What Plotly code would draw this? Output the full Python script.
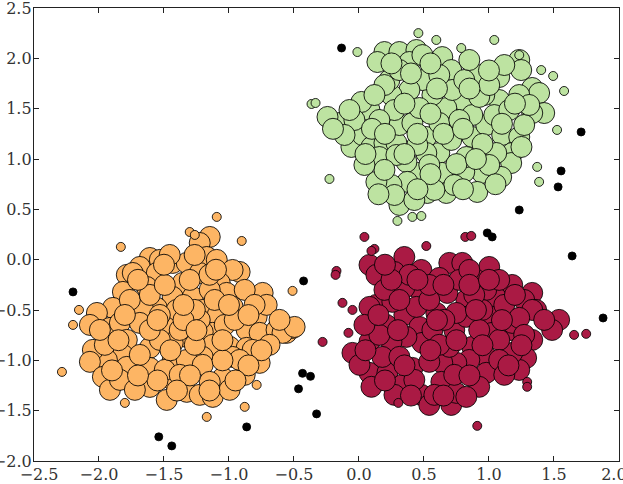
import plotly.graph_objects as go

# ---- data (data units) ----
red_core = [
    (0.081, -0.052), (0.134, -0.151), (0.349, 0.027), (0.273, -0.122), (0.480, -0.102),
    (0.695, -0.032), (0.795, -0.032), (0.618, -0.181), (1.002, -0.072), (0.902, -0.201),
    (1.179, -0.251), (1.333, -0.330), (1.271, -0.400), (1.363, -0.499), (1.056, -0.380),
    (0.979, -0.300), (0.826, -0.400), (0.680, -0.330), (0.465, -0.300), (0.349, -0.281),
    (0.134, -0.449), (0.081, -0.469), (0.211, -0.648), (0.349, -0.549), (0.465, -0.668),
    (0.595, -0.529), (0.733, -0.698), (0.826, -0.568), (1.025, -0.568), (1.171, -0.698),
    (1.333, -0.797), (1.286, -0.976), (1.233, -1.095), (1.025, -0.727), (0.872, -0.866),
    (0.979, -0.966), (0.979, -1.124), (0.925, -1.263), (0.849, -0.996), (0.749, -1.025),
    (0.641, -1.025), (0.488, -0.826), (0.365, -0.767), (0.250, -0.817), (0.081, -0.817),
    (-0.050, -0.926), (0.081, -1.124), (0.096, -1.263), (0.219, -1.124), (0.334, -1.244),
    (0.411, -1.075), (0.541, -1.015), (0.634, -1.214), (0.480, -1.343), (0.541, -1.443),
    (0.710, -1.443), (0.749, -1.323), (0.826, -1.363), (1.540, -0.598), (1.486, -0.698),
    (1.179, -0.628), (1.333, -0.499), (0.180, -0.966), (0.311, -0.966), (0.695, -0.866),
    (0.565, -0.698), (0.949, -0.499), (0.749, -0.529), (0.442, -0.469), (0.257, -0.419),
    (1.179, -0.926), (1.079, -0.797), (0.196, -0.300), (0.311, -0.400), (0.541, -0.400),
    (0.772, -0.201), (0.887, -0.350), (1.118, -0.449), (1.233, -0.578), (0.618, -0.846),
    (0.925, -0.698), (1.079, -0.996), (0.733, -1.144), (0.426, -1.194), (0.273, -1.343),
    (0.157, -0.747), (0.042, -0.648), (0.541, -0.251), (0.388, -0.151), (1.079, -0.201),
    (0.849, -0.102), (0.580, -1.343), (1.118, -1.144), (1.271, -0.747), (1.425, -0.598),
    (0.004, -1.045), (0.657, -0.598),
    (0.25, -0.20), (0.45, -0.20), (0.65, -0.25), (0.90, -0.50), (1.10, -0.60),
    (1.25, -0.85), (1.15, -1.05), (0.95, -0.85), (0.75, -0.80), (0.55, -0.90),
    (0.35, -1.05), (0.20, -1.20), (0.40, -1.35), (0.65, -1.35), (0.85, -1.15),
    (0.15, -0.55), (0.05, -0.90), (0.30, -0.70), (0.60, -0.60), (0.85, -0.25),
    (1.00, -0.20), (1.20, -0.35), (0.20, -0.05),
]
red_edge = [
    (0.042, 0.226), (0.119, 0.107), (0.096, 0.087), (0.518, 0.136), (0.818, 0.226),
    (0.864, 0.236), (-0.173, -0.112), (-0.180, -0.151), (-0.127, -0.429), (-0.050, -0.499),
    (-0.081, -0.727), (-0.280, -0.817), (0.303, -1.423), (0.910, -1.651), (1.294, -1.214),
    (1.294, -1.263), (1.655, -0.747), (1.748, -0.737),
]
orange_core = [
    (-1.148, 0.226), (-1.225, 0.166), (-1.609, 0.017), (-1.532, -0.002), (-1.686, -0.072),
    (-1.786, -0.151), (-1.740, -0.132), (-1.555, -0.132), (-1.433, -0.032), (-1.325, -0.032),
    (-1.171, 0.027), (-1.094, -0.002), (-1.225, -0.132), (-1.356, -0.231), (-1.632, -0.271),
    (-1.816, -0.320), (-0.918, -0.122), (-0.972, -0.102), (-1.071, -0.231), (-1.018, -0.330),
    (-1.279, -0.370), (-1.433, -0.370), (-1.555, -0.479), (-1.663, -0.479), (-1.893, -0.479),
    (-2.016, -0.529), (-1.916, -0.678), (-2.070, -0.648), (-1.839, -0.628), (-1.686, -0.628),
    (-1.479, -0.668), (-1.402, -0.499), (-1.202, -0.499), (-1.087, -0.549), (-0.972, -0.469),
    (-1.125, -0.727), (-1.325, -0.767), (-1.202, -0.717), (-0.787, -0.568), (-0.741, -0.330),
    (-0.710, -0.449), (-0.864, -0.698), (-0.764, -0.727), (-0.634, -0.698), (-0.557, -0.727),
    (-0.511, -0.678), (-0.995, -0.866), (-0.864, -0.876), (-0.972, -0.966), (-1.125, -0.846),
    (-1.202, -0.966), (-1.433, -0.826), (-1.609, -0.876), (-1.786, -0.797), (-1.816, -0.946),
    (-1.939, -0.996), (-2.047, -0.896), (-2.070, -1.015), (-1.970, -1.164), (-1.916, -1.293),
    (-1.786, -1.065), (-1.609, -1.075), (-1.609, -1.264), (-1.433, -0.996), (-1.325, -0.996),
    (-1.433, -1.194), (-1.325, -1.313), (-1.479, -1.393), (-1.225, -1.343), (-1.202, -1.045),
    (-1.048, -1.174), (-1.125, -1.363), (-0.995, -1.293), (-0.764, -1.025), (-0.818, -0.896),
    (-1.379, -0.698), (-1.225, -0.598), (-0.588, -0.727), (-0.495, -0.668), (-1.763, -0.400),
    (-1.609, -0.350), (-1.494, -0.251), (-1.302, -0.201), (-1.148, -0.300), (-0.879, -0.300),
    (-0.803, -0.449), (-1.033, -0.648), (-0.956, -0.598), (-1.263, -0.846), (-1.532, -0.797),
    (-1.686, -0.946), (-1.955, -0.846), (-1.839, -1.194), (-1.724, -1.293), (-1.494, -1.095),
    (-1.379, -1.144), (-1.148, -1.214), (-0.879, -1.144), (-0.688, -0.846), (-0.918, -0.996),
    (-1.263, -0.499), (-1.532, -0.549), (-1.801, -0.549), (-1.993, -0.698), (-0.611, -0.598),
    (-1.609, -0.698), (-1.110, -0.400), (-1.456, 0.047), (-1.264, 0.047),
    (-1.70, -0.20), (-1.55, -0.60), (-1.35, -0.60), (-1.15, -0.15), (-1.00, -0.45),
    (-0.85, -0.55), (-0.75, -0.90), (-0.85, -1.05), (-1.05, -1.00), (-1.30, -1.15),
    (-1.55, -1.20), (-1.70, -1.15), (-1.90, -1.10), (-1.85, -0.80), (-1.45, -0.90),
    (-1.25, -0.70), (-1.05, -0.80), (-1.40, -1.30), (-1.15, -1.30), (-0.95, -1.20),
    (-1.50, -0.05), (-1.35, -0.45), (-1.10, -0.10),
]
orange_edge = [
    (-1.832, 0.127), (-0.902, 0.186), (-0.511, -0.310), (-2.154, -0.499), (-2.200, -0.648),
    (-2.285, -1.115), (-1.801, -1.423), (-1.171, -1.562), (-0.879, -1.462), (-0.787, -1.244),
    (-1.094, 0.425), (-1.302, 0.275), (-1.263, 0.246),
]
green_core = [
    (0.196, 2.063), (0.311, 2.063), (0.442, 2.083), (0.142, 1.964), (0.388, 1.964),
    (0.488, 2.033), (0.641, 2.013), (0.710, 1.884), (0.910, 1.835), (1.079, 1.815),
    (1.233, 1.984), (1.248, 1.884), (1.333, 1.706), (1.386, 1.656), (1.425, 1.457),
    (1.333, 1.457), (1.233, 1.636), (1.079, 1.586), (0.964, 1.636), (0.795, 1.586),
    (0.672, 1.507), (0.565, 1.636), (0.488, 1.785), (0.388, 1.686), (0.250, 1.636),
    (0.234, 1.785), (0.081, 1.487), (0.019, 1.567), (-0.150, 1.358), (-0.242, 1.418),
    (-0.058, 1.120), (0.027, 1.239), (0.096, 1.120), (0.196, 1.160), (0.288, 1.160),
    (0.311, 1.338), (0.411, 1.358), (0.518, 1.219), (0.618, 1.060), (0.710, 1.190),
    (0.872, 1.219), (0.979, 1.338), (1.102, 1.239), (1.233, 1.219), (1.179, 1.060),
    (1.171, 0.960), (1.094, 0.822), (0.949, 0.862), (0.910, 0.673), (0.810, 0.872),
    (0.641, 0.862), (0.672, 0.663), (0.526, 0.663), (0.449, 0.862), (0.365, 0.971),
    (0.372, 0.773), (0.250, 0.742), (0.134, 0.773), (0.311, 0.544), (0.157, 1.020),
    (0.288, 1.040), (0.518, 1.060), (0.826, 1.020), (1.056, 1.060), (0.872, 1.437),
    (0.618, 1.358), (0.718, 1.686), (0.925, 1.617), (0.273, 1.487), (0.157, 1.388),
    (-0.035, 1.388), (-0.111, 1.239), (0.465, 1.507), (0.772, 1.388), (1.041, 1.437),
    (1.156, 1.487), (1.271, 1.338), (0.810, 1.785), (1.002, 1.735), (1.118, 1.934),
    (0.618, 1.835), (0.311, 1.884), (0.541, 0.941), (0.733, 0.742), (1.002, 0.941),
    (0.196, 0.892), (0.273, 0.643), (0.042, 0.941), (0.449, 1.140), (0.196, 1.735),
    (0.119, 1.636), (-0.073, 1.487), (0.849, 1.984), (0.580, 0.693), (1.310, 1.537),
    (0.426, 0.593),
    (0.35, 1.55), (0.55, 1.45), (0.45, 1.25), (0.65, 1.25), (0.80, 1.30),
    (0.95, 1.15), (1.10, 1.35), (1.20, 1.55), (0.85, 1.70), (0.60, 1.70),
    (0.40, 1.85), (0.10, 1.30), (0.20, 1.25), (0.35, 1.05), (0.55, 0.85),
    (0.75, 0.95), (0.90, 1.00), (1.05, 0.75), (0.80, 0.70), (0.45, 0.70),
    (0.05, 1.05), (1.25, 1.12), (1.00, 1.88), (0.55, 1.95), (0.25, 1.95),
    (-0.20, 1.30), (0.15, 0.65),
]
green_edge = [
    (0.457, 2.251), (0.595, 2.183), (0.787, 2.103), (1.041, 2.183), (-0.012, 2.063),
    (-0.365, 1.547), (-0.334, 1.557), (-0.227, 0.802), (0.296, 0.385), (0.411, 0.425),
    (0.480, 0.434), (1.402, 1.884), (1.494, 1.825), (1.578, 1.676), (1.524, 1.289),
    (1.371, 0.922), (1.386, 0.773), (1.233, 2.033),
]
noise = [
    (-0.134, 2.103), (1.709, 1.269), (1.555, 0.882), (1.532, 0.723), (1.233, 0.494),
    (0.987, 0.266), (1.025, 0.226), (1.640, 0.037), (1.878, -0.579), (-2.200, -0.320),
    (-0.426, -0.211), (-0.434, -1.129), (-0.373, -1.159), (-0.465, -1.283), (-0.326, -1.532),
    (-0.864, -1.661), (-1.540, -1.760), (-1.440, -1.850),
]

x_ticks = [-2.5, -2.0, -1.5, -1.0, -0.5, 0.0, 0.5, 1.0, 1.5, 2.0]
x_labels = ["\u00a0\u00a0\u22122.5", "\u22122.0", "\u22121.5", "\u22121.0", "\u22120.5",
            "0.0", "0.5", "1.0", "1.5", "2.0\u00a0\u00a0"]
y_ticks = [-2.0, -1.5, -1.0, -0.5, 0.0, 0.5, 1.0, 1.5, 2.0, 2.5]
y_labels = ["\u22122.0", "\u22121.5", "\u22121.0", "\u22120.5", "0.0", "0.5", "1.0", "1.5",
            "2.0", "2.5"]

RED = "#aa1a44"
ORANGE = "#fdb564"
GREEN = "#bde3a1"

fig = go.Figure()


def add(points, color, size):
    fig.add_trace(go.Scatter(
        x=[p[0] for p in points], y=[p[1] for p in points],
        mode="markers", showlegend=False, hoverinfo="skip",
        marker=dict(color=color, size=size, opacity=1,
                    line=dict(color="rgba(0,0,0,0.85)", width=1)),
    ))


add(red_core, RED, 21)
add(red_edge, RED, 9)
add(orange_core, ORANGE, 21)
add(orange_edge, ORANGE, 9)
add(green_core, GREEN, 21)
add(green_edge, GREEN, 9)
add(noise, "black", 8)

axis_common = dict(
    showline=True, linecolor="#222", linewidth=1.3, mirror="ticks",
    ticks="inside", ticklen=5, tickwidth=1.2, tickcolor="#222",
    showgrid=False, zeroline=False,
    tickfont=dict(family="DejaVu Serif, serif", size=16, color="#333"),
    automargin=False, ticklabeloverflow="allow",
)

fig.update_layout(
    width=623, height=484,
    margin=dict(l=34, r=4, t=8, b=23),
    paper_bgcolor="white", plot_bgcolor="white",
    xaxis=dict(range=[-2.5, 2.0005], tickvals=x_ticks, ticktext=x_labels,
               ticklabelstandoff=-1, **axis_common),
    yaxis=dict(range=[-2.0, 2.5005], tickvals=y_ticks, ticktext=y_labels,
               ticklabelstandoff=-2, **axis_common),
)

fig.write_html("out.html")
